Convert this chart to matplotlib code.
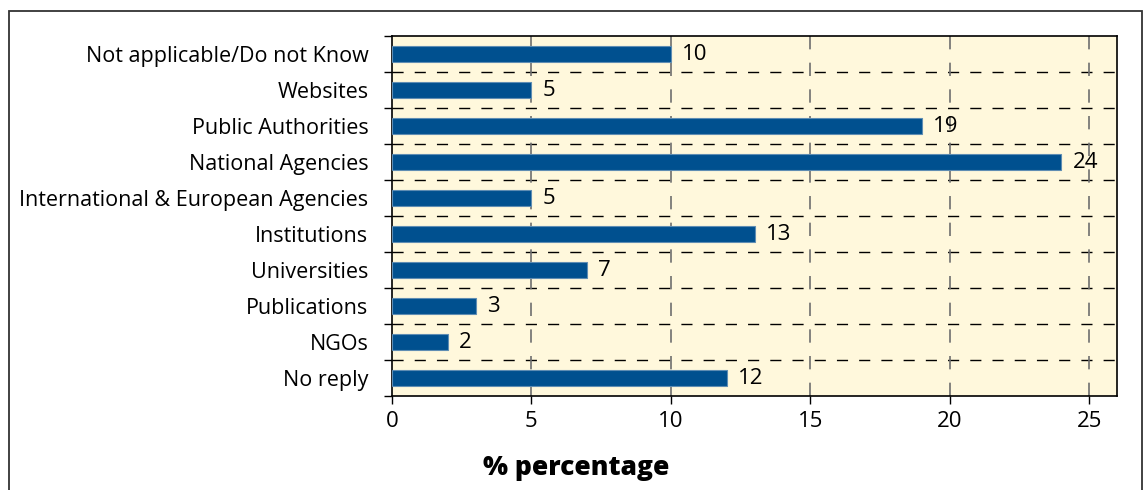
import matplotlib
matplotlib.use("Agg")
import matplotlib.pyplot as plt
from matplotlib.patches import Rectangle

categories = ["Not applicable/Do not Know", "Websites", "Public Authorities",
              "National Agencies", "International & European Agencies",
              "Institutions", "Universities", "Publications", "NGOs", "No reply"]
values = [10, 5, 19, 24, 5, 13, 7, 3, 2, 12]
xticks = [0, 5, 10, 15, 20, 25]

plt.rcParams['font.family'] = ['Open Sans', 'DejaVu Sans']

W, H = 1143, 490
fig = plt.figure(figsize=(W/100, H/100), dpi=100)
ax = fig.add_axes([392/W, 1-396/H, (1117-392)/W, (396-36)/H])

bg = '#fff8dc'
ax.set_facecolor(bg)
n = len(categories)
ypos = list(range(n))
ax.barh(ypos, values, height=0.45, color='#00508f', edgecolor='#5f8db3',
        linewidth=0.8, zorder=3)
for y, v in zip(ypos, values):
    ax.text(v + 0.4, y, str(v), va='center', ha='left', fontsize=16,
            color='black', zorder=4)

ax.set_xlim(0, 26)
ax.set_ylim(n - 0.5, -0.5)
ax.set_xticks(xticks)
ax.set_xticklabels([str(t) for t in xticks], fontsize=16)
# y ticks at boundaries, labels at centres
ax.set_yticks([i + 0.5 for i in range(n - 1)] + [-0.5, n - 0.5])
ax.set_yticklabels([])
ax.set_yticks(ypos, minor=True)
ax.set_yticklabels(categories, minor=True, fontsize=15.5)
ax.tick_params(axis='y', which='minor', length=0, pad=17)
ax.tick_params(axis='y', which='major', length=6, width=1, direction='out')
ax.tick_params(axis='x', length=6, width=1, direction='out', pad=5)

for i in range(n - 1):
    ax.axhline(i + 0.5, color='black', linestyle=(0, (8, 8)), linewidth=1, zorder=1)
for t in xticks[1:]:
    ax.axvline(t, color='#6e6e6e', linestyle=(0, (8, 8)), linewidth=1.2, zorder=1)

for s in ax.spines.values():
    s.set_linewidth(1.2)
    s.set_color('black')

fig.text(576/W, 1-468/H, '% percentage', fontsize=19, fontweight='heavy',
         ha='center', va='center')

fig.patches.append(Rectangle((9/W, -0.05), (1142-9)/W, 1.05 - 11/H,
                             transform=fig.transFigure, fill=False,
                             edgecolor='#333333', linewidth=1.3))

fig.savefig('out.png', dpi=100, facecolor='white')
